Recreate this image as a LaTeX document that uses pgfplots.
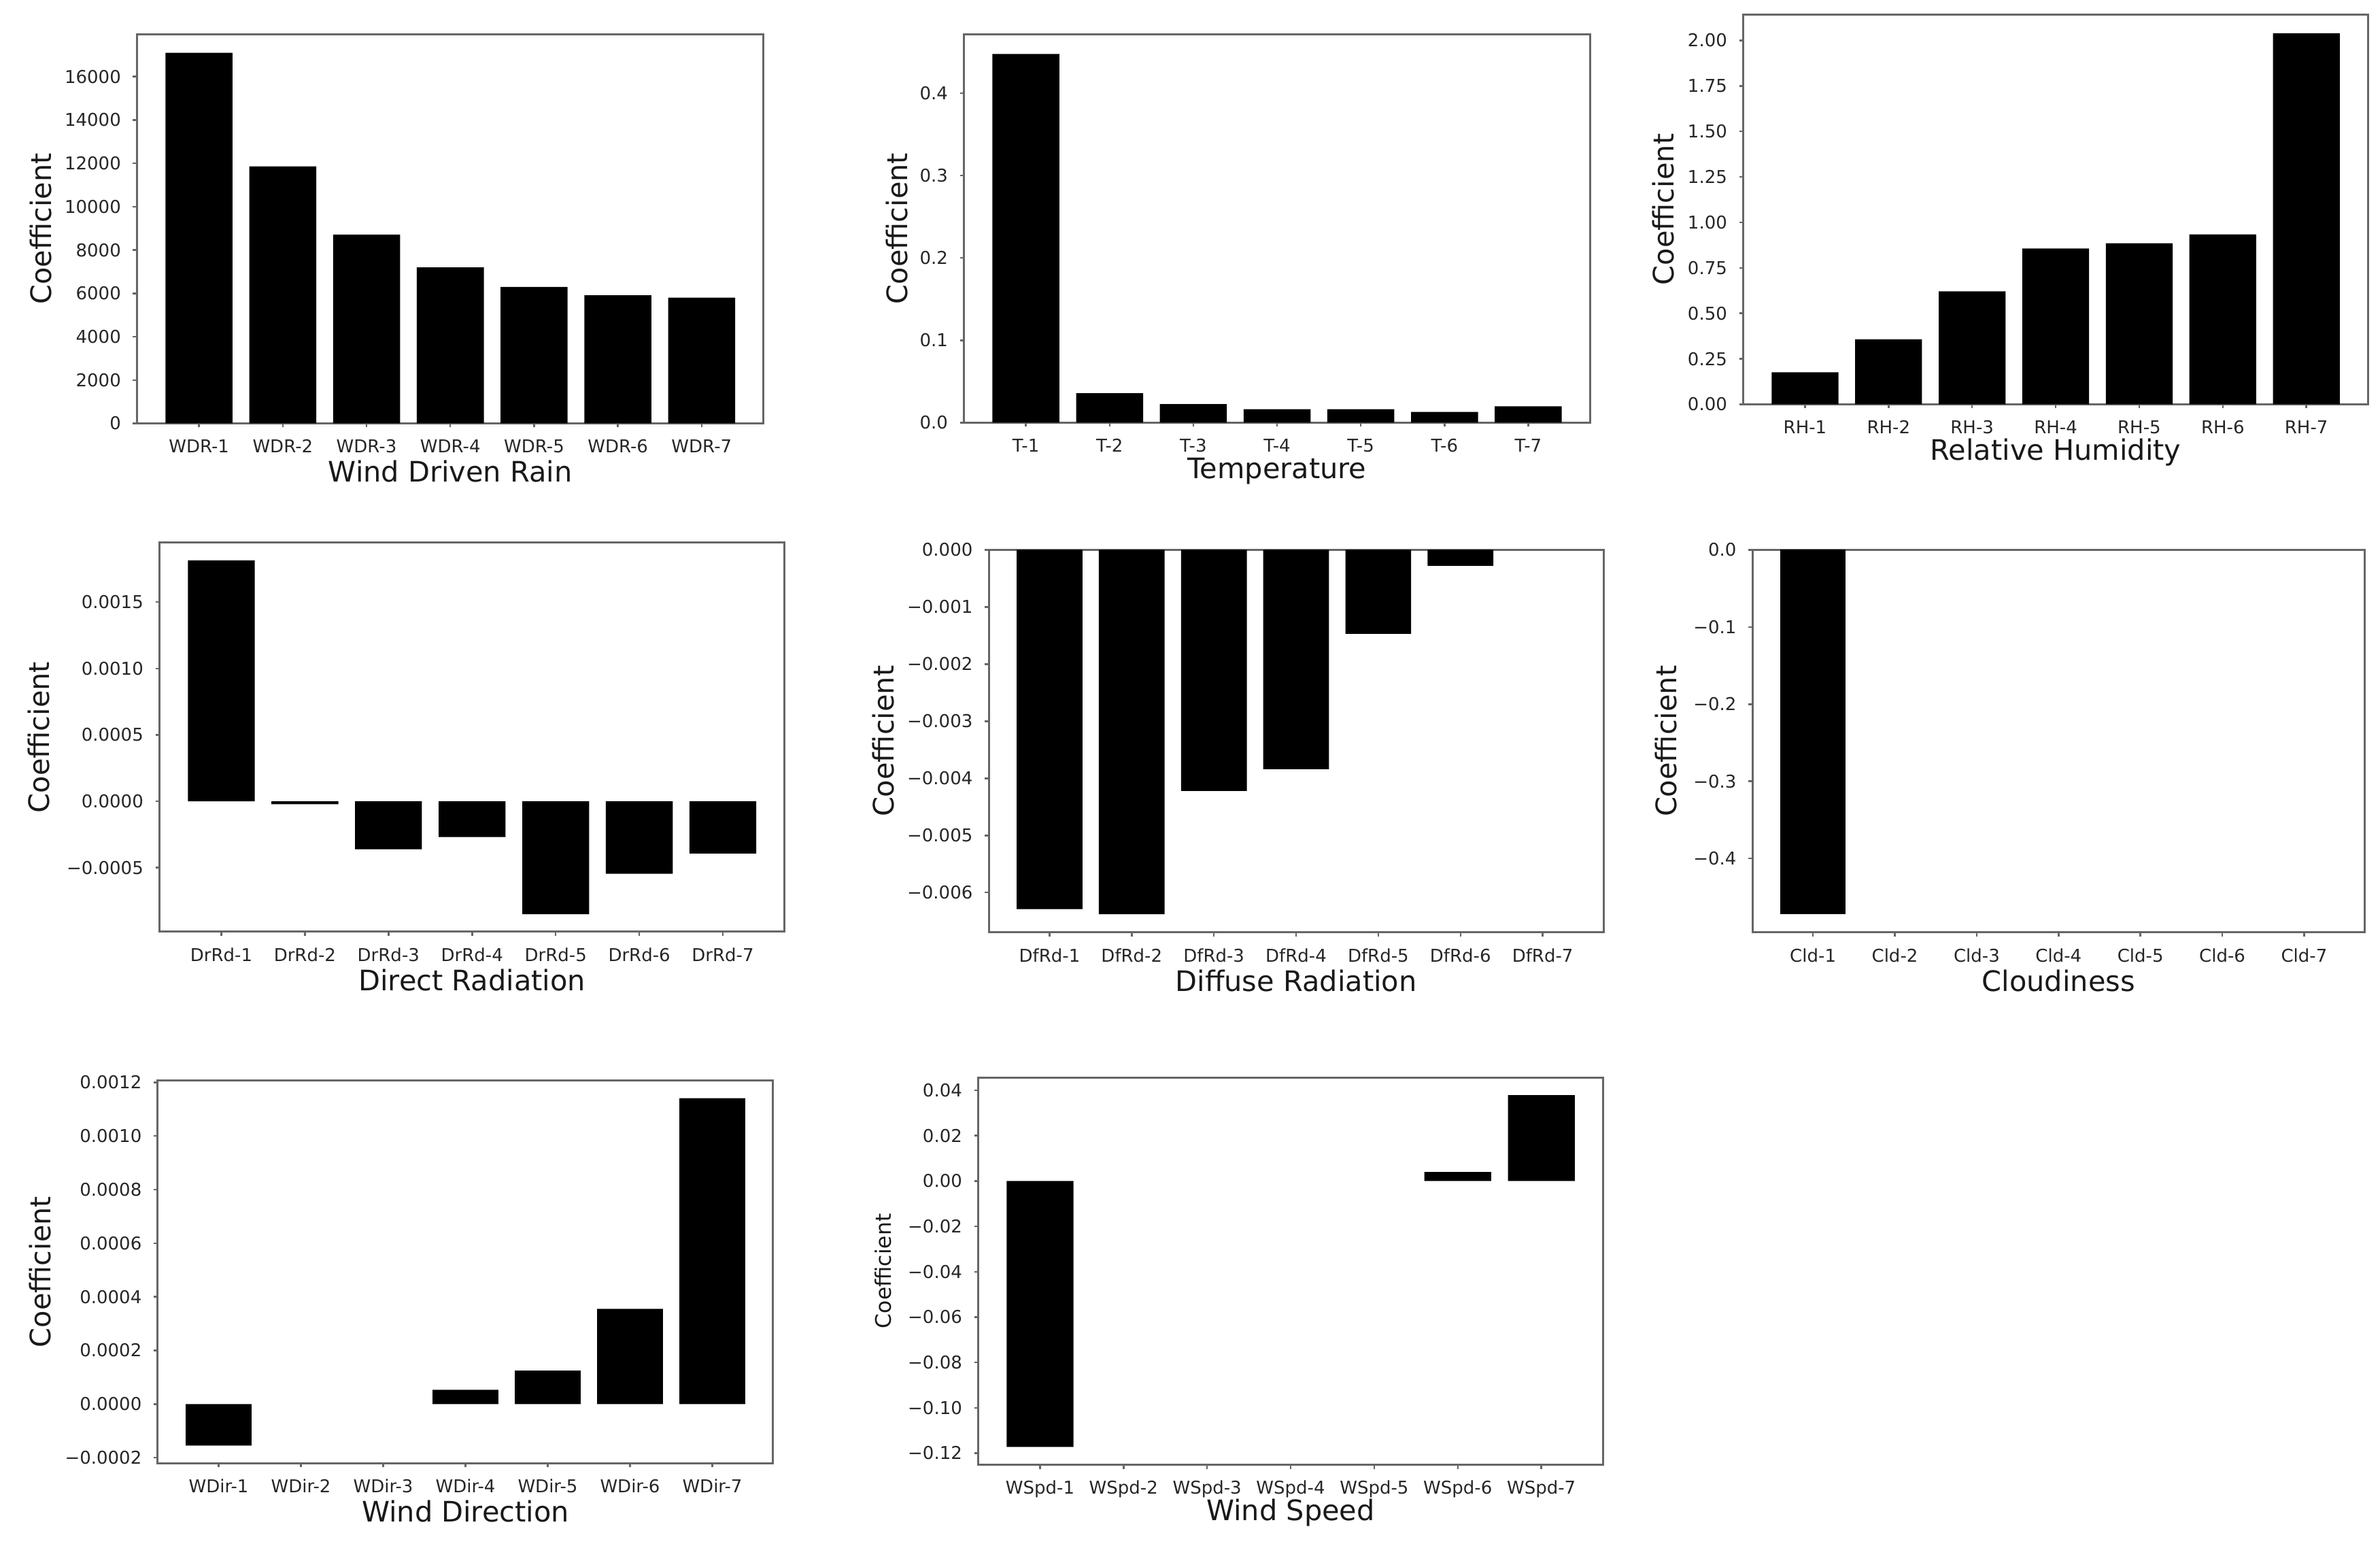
\documentclass[border=0pt]{standalone}
\usepackage{fontspec}
\setmainfont{DejaVu Sans}
\usepackage{pgfplots}
\pgfplotsset{compat=1.18}
\pgfplotsset{
  panel/.style={
    scale only axis, anchor=south west,
    xmin=-0.74, xmax=6.74, xtick={0,1,2,3,4,5,6},
    tick align=outside, tick pos=left, major tick length=1.2pt,
    axis line style={black!60, line width=0.6pt},
    every tick/.style={black!60, line width=0.5pt},
    tick label style={font=\fontsize{5.2}{6}\selectfont, text=black!85},
    label style={font=\fontsize{8.3}{10}\selectfont, text=black!90},
    scaled y ticks=false,
    xlabel style={at={(axis description cs:0.5,0)}, anchor=center, yshift=-14.2pt},
  },
  bars/.style={ybar, bar width=0.8, bar shift=0pt, fill=black, draw=none},
}
\begin{document}
\begin{tikzpicture}
\path[use as bounding box] (0,0) rectangle (700pt,454.4pt);

% Wind Driven Rain
\begin{axis}[panel, at={(40.3pt,329.9pt)}, width=184.3pt, height=114.4pt,
  ymin=0, ymax=17955,
  ytick={0,2000,4000,6000,8000,10000,12000,14000,16000},
  yticklabels={0,2000,4000,6000,8000,10000,12000,14000,16000},
  xticklabels={WDR-1,WDR-2,WDR-3,WDR-4,WDR-5,WDR-6,WDR-7},
  xlabel={Wind Driven Rain}, ylabel={Coefficient},
  ylabel style={at={(axis description cs:-0.1536,0.5)}, anchor=center}]
\addplot[bars] coordinates {(0,17100) (1,11860) (2,8710) (3,7200) (4,6300) (5,5910) (6,5800)};
\end{axis}

% Temperature
\begin{axis}[panel, at={(283.5pt,330.1pt)}, width=184.2pt, height=114.2pt,
  ymin=0, ymax=0.4714,
  ytick={0,0.1,0.2,0.3,0.4},
  yticklabels={0.0,0.1,0.2,0.3,0.4},
  xticklabels={T-1,T-2,T-3,T-4,T-5,T-6,T-7},
  xlabel={Temperature}, ylabel={Coefficient},
  ylabel style={at={(axis description cs:-0.107,0.5)}, anchor=center}]
\addplot[bars] coordinates {(0,0.4476) (1,0.0357) (2,0.0226) (3,0.0163) (4,0.0163) (5,0.0131) (6,0.0198)};
\end{axis}

% Relative Humidity
\begin{axis}[panel, at={(512.7pt,335.5pt)}, width=183.8pt, height=114.6pt,
  ymin=0, ymax=2.142,
  ytick={0,0.25,0.5,0.75,1,1.25,1.5,1.75,2},
  yticklabels={0.00,0.25,0.50,0.75,1.00,1.25,1.50,1.75,2.00},
  xticklabels={RH-1,RH-2,RH-3,RH-4,RH-5,RH-6,RH-7},
  xlabel={Relative Humidity}, ylabel={Coefficient},
  ylabel style={at={(axis description cs:-0.128,0.5)}, anchor=center}]
\addplot[bars] coordinates {(0,0.176) (1,0.357) (2,0.621) (3,0.856) (4,0.885) (5,0.934) (6,2.04)};
\end{axis}

% Direct Radiation
\begin{axis}[panel, at={(46.9pt,180.4pt)}, width=183.9pt, height=114.4pt,
  ymin=-0.000983, ymax=0.001947,
  ytick={-0.0005,0,0.0005,0.001,0.0015},
  yticklabels={−0.0005,0.0000,0.0005,0.0010,0.0015},
  xticklabels={DrRd-1,DrRd-2,DrRd-3,DrRd-4,DrRd-5,DrRd-6,DrRd-7},
  xlabel={Direct Radiation}, ylabel={Coefficient},
  ylabel style={at={(axis description cs:-0.1925,0.5)}, anchor=center}]
\addplot[bars] coordinates {(0,0.001814) (1,-0.000022) (2,-0.000361) (3,-0.000269) (4,-0.00085) (5,-0.000546) (6,-0.000393)};
\end{axis}

% Diffuse Radiation
\begin{axis}[panel, at={(290.8pt,180.2pt)}, width=180.8pt, height=112.5pt,
  ymin=-0.0067, ymax=0,
  ytick={-0.006,-0.005,-0.004,-0.003,-0.002,-0.001,0},
  yticklabels={−0.006,−0.005,−0.004,−0.003,−0.002,−0.001,0.000},
  xticklabels={DfRd-1,DfRd-2,DfRd-3,DfRd-4,DfRd-5,DfRd-6,DfRd-7},
  xlabel={Diffuse Radiation}, ylabel={Coefficient},
  ylabel style={at={(axis description cs:-0.1715,0.5)}, anchor=center}]
\addplot[bars] coordinates {(0,-0.00629) (1,-0.00638) (2,-0.00422) (3,-0.00384) (4,-0.00147) (5,-0.00028)};
\end{axis}

% Cloudiness
\begin{axis}[panel, at={(515.4pt,180.2pt)}, width=180.1pt, height=112.5pt,
  ymin=-0.496, ymax=0,
  ytick={-0.4,-0.3,-0.2,-0.1,0},
  yticklabels={−0.4,−0.3,−0.2,−0.1,0.0},
  xticklabels={Cld-1,Cld-2,Cld-3,Cld-4,Cld-5,Cld-6,Cld-7},
  xlabel={Cloudiness}, ylabel={Coefficient},
  ylabel style={at={(axis description cs:-0.1416,0.5)}, anchor=center}]
\addplot[bars] coordinates {(0,-0.4723)};
\end{axis}

% Wind Direction
\begin{axis}[panel, at={(46.4pt,24.2pt)}, width=181pt, height=112.4pt,
  ymin=-0.00022, ymax=0.001206,
  ytick={-0.0002,0,0.0002,0.0004,0.0006,0.0008,0.001,0.0012},
  yticklabels={−0.0002,0.0000,0.0002,0.0004,0.0006,0.0008,0.0010,0.0012},
  xticklabels={WDir-1,WDir-2,WDir-3,WDir-4,WDir-5,WDir-6,WDir-7},
  xlabel={Wind Direction}, ylabel={Coefficient},
  ylabel style={at={(axis description cs:-0.191,0.5)}, anchor=center}]
\addplot[bars] coordinates {(0,-0.000155) (3,0.000053) (4,0.000125) (5,0.000355) (6,0.001141)};
\end{axis}

% Wind Speed
\begin{axis}[panel, at={(287.7pt,23.7pt)}, width=183.8pt, height=113.9pt,
  ymin=-0.1251, ymax=0.0457,
  ytick={-0.12,-0.1,-0.08,-0.06,-0.04,-0.02,0,0.02,0.04},
  yticklabels={−0.12,−0.10,−0.08,−0.06,−0.04,−0.02,0.00,0.02,0.04},
  xticklabels={WSpd-1,WSpd-2,WSpd-3,WSpd-4,WSpd-5,WSpd-6,WSpd-7},
  xlabel={Wind Speed}, ylabel={Coefficient},
  ylabel style={at={(axis description cs:-0.152,0.5)}, anchor=center, font=\fontsize{6.3}{8}\selectfont}]
\addplot[bars] coordinates {(0,-0.1173) (5,0.004) (6,0.0379)};
\end{axis}
\end{tikzpicture}
\end{document}
